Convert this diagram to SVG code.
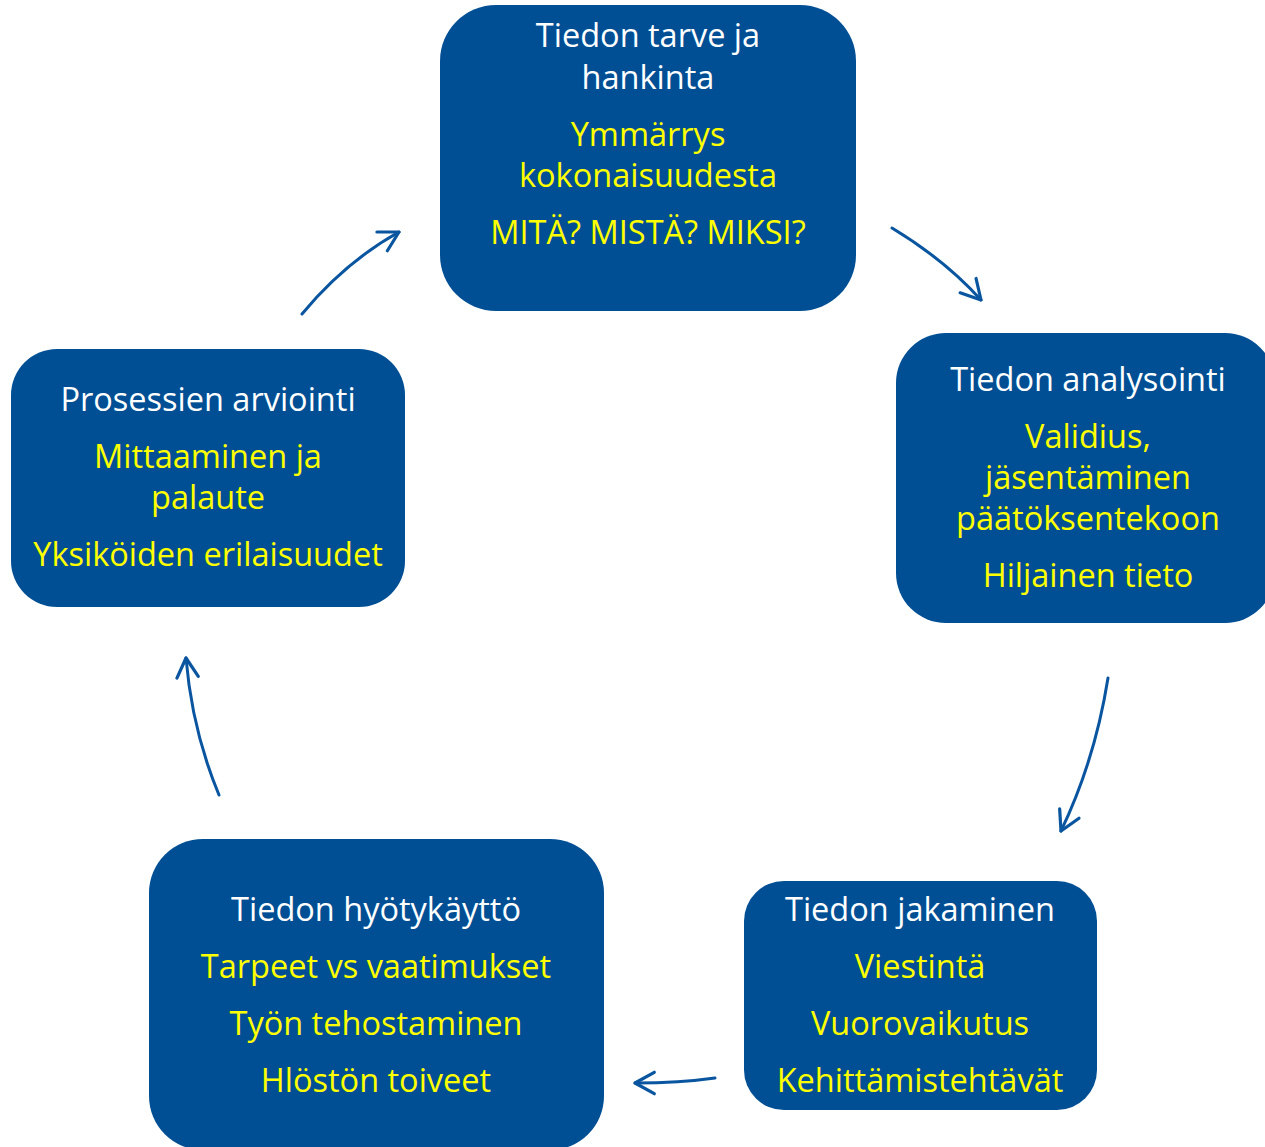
<svg xmlns="http://www.w3.org/2000/svg" width="1265" height="1147" viewBox="0 0 1265 1147">
<style>
.box{fill:#004F95;}
text{font-family:"Open Sans","Noto Sans","Liberation Sans",sans-serif;font-size:32.5px;text-anchor:middle;}
.w{fill:#FFFFFF;}
.y{fill:#FFFF00;}
.c{fill:none;stroke:#0A55A0;stroke-width:3;stroke-linecap:round;}
</style>
<defs>
<marker id="ah" markerUnits="userSpaceOnUse" markerWidth="30" markerHeight="30" viewBox="-22 -14 26 28" refX="0" refY="0" orient="auto">
<path d="M-18,-10 L0,0 L-18,10" fill="none" stroke="#0A55A0" stroke-width="3" stroke-linecap="round" stroke-linejoin="round"/>
</marker>
</defs>
<rect width="1265" height="1147" fill="#FFFFFF"/>
<g id="connectors">
<path class="c" d="M892,228 Q945,260 981,300" marker-end="url(#ah)"/>
<path class="c" d="M1108,678 Q1095,760 1061,831" marker-end="url(#ah)"/>
<path class="c" d="M715,1078 Q680,1083 635,1083" marker-end="url(#ah)"/>
<path class="c" d="M219,795 Q192,730 186,658" marker-end="url(#ah)"/>
<path class="c" d="M302,314 Q345,262 399,232" marker-end="url(#ah)"/>
</g>
<g id="node-hankinta">
<rect class="box" x="440" y="5" width="416" height="306" rx="56"/>
<text class="w" x="648" y="47">Tiedon tarve ja</text>
<text class="w" x="648" y="88.5">hankinta</text>
<text class="y" x="648" y="146">Ymmärrys</text>
<text class="y" x="648" y="187">kokonaisuudesta</text>
<text class="y" x="648" y="244">MITÄ? MISTÄ? MIKSI?</text>
</g>
<g id="node-analysointi">
<rect class="box" x="896" y="333" width="379" height="290" rx="50"/>
<text class="w" x="1088" y="391">Tiedon analysointi</text>
<text class="y" x="1088" y="448">Validius,</text>
<text class="y" x="1088" y="489">jäsentäminen</text>
<text class="y" x="1088" y="530">päätöksentekoon</text>
<text class="y" x="1088" y="587">Hiljainen tieto</text>
</g>
<g id="node-jakaminen">
<rect class="box" x="744" y="881" width="353" height="229" rx="40"/>
<text class="w" x="920" y="921">Tiedon jakaminen</text>
<text class="y" x="920" y="978">Viestintä</text>
<text class="y" x="920" y="1035">Vuorovaikutus</text>
<text class="y" x="920" y="1092">Kehittämistehtävät</text>
</g>
<g id="node-hyotykaytto">
<rect class="box" x="149" y="839" width="455" height="311" rx="54"/>
<text class="w" x="376" y="921">Tiedon hyötykäyttö</text>
<text class="y" x="376" y="978">Tarpeet vs vaatimukset</text>
<text class="y" x="376" y="1035">Työn tehostaminen</text>
<text class="y" x="376" y="1092">Hlöstön toiveet</text>
</g>
<g id="node-arviointi">
<rect class="box" x="11" y="349" width="394" height="258" rx="46"/>
<text class="w" x="208" y="411">Prosessien arviointi</text>
<text class="y" x="208" y="468">Mittaaminen ja</text>
<text class="y" x="208" y="509">palaute</text>
<text class="y" x="208" y="566">Yksiköiden erilaisuudet</text>
</g>
</svg>
